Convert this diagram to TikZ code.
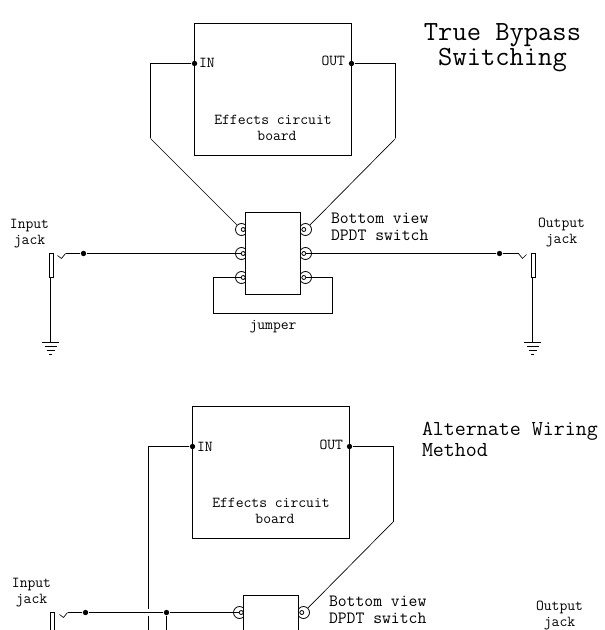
\documentclass[tikz,border=0pt]{standalone}
\begin{document}
\begin{tikzpicture}[x=0.75pt,y=-0.75pt,line width=0.75pt,
  txt/.style={inner sep=0pt,font=\ttfamily\fontsize{11.4}{13}\selectfont,text height=6.5pt,text depth=1.5pt},
  txtb/.style={txt,font=\ttfamily\fontsize{12.9}{14}\selectfont,anchor=west},
  ttl/.style={inner sep=0pt,font=\ttfamily\fontsize{20.8}{23}\selectfont,text height=11pt,text depth=2.5pt},
  alt/.style={inner sep=0pt,font=\ttfamily\fontsize{16}{18}\selectfont,text height=9pt,text depth=2pt,anchor=west},
  dot/.style={circle,fill=black,inner sep=0pt,minimum size=4pt},
  lugb/.style={circle,draw,inner sep=0pt,minimum size=9pt,line width=0.6pt},
  lugs/.style={circle,draw,fill=white,inner sep=0pt,minimum size=3pt,line width=0.6pt},
  sw/.style={draw,fill=white,inner sep=0pt},
  wire/.style={line width=0.75pt},
  thin wire/.style={line width=0.5pt},
  jackbody/.style={draw,inner sep=0pt,minimum width=3pt,minimum height=17.5pt}]
\useasboundingbox (-0.5,-0.5) rectangle (604.5,629.5);
\clip (-0.5,-0.5) rectangle (604.5,629.5);
% ---------- top diagram ----------
\node[draw,inner sep=0pt,minimum width=117.75pt,minimum height=99pt] (board) at (272.5,89) {};
\node[dot] (in) at (194,63) {};
\node[dot] (out) at (351,63) {};
\node[txt,anchor=west] (inl) at (198,64) {IN};
\node[txt,anchor=east] (outl) at (345,62) {OUT};
\node[txt] (eff) at (272.5,121) {Effects circuit};
\node[txt] (brd) at (276.5,137) {board};
\node[ttl] (t1) at (502,34) {True Bypass};
\node[ttl] (t2) at (502,59) {Switching};
\foreach \n/\y in {1/229,2/253,3/277}{
  \node[lugb] (la\n) at (241,\y) {};
  \node[lugb] (ra\n) at (305,\y) {};
}
\node[sw,minimum width=41.25pt,minimum height=61.5pt] (switch) at (272.5,253) {};
\foreach \n/\y in {1/229,2/253,3/277}{
  \node[lugs] (lb\n) at (242.7,\y) {};
  \node[lugs] (rb\n) at (303.3,\y) {};
}
\coordinate (c1) at (150,63);
\coordinate (c2) at (150,138);
\coordinate (c3) at (395,63);
\coordinate (c4) at (395,138);
\draw[wire] (in) -- (c1) -- (c2);
\draw[thin wire] (c2) -- (la1);
\draw[wire] (out) -- (c3) -- (c4);
\draw[thin wire] (c4) -- (ra1);
\node[txt] (inp1) at (29,225) {Input};
\node[txt] (inp2) at (29,241) {jack};
\node[txt] (outp1) at (561,224) {Output};
\node[txt] (outp2) at (561,240) {jack};
\node[txtb] (bv) at (330,220) {Bottom view};
\node[txtb] (dp) at (330,237) {DPDT switch};
\node[txt] (jmp) at (272.5,326) {jumper};
\node[dot] (d1) at (83,253) {};
\node[dot] (d2) at (499,253) {};
\node[jackbody] (jl) at (50.5,265) {};
\node[jackbody] (jr) at (532.5,265) {};
\coordinate (h1) at (65,253);
\coordinate (h2) at (61,258);
\coordinate (h3) at (57,255);
\coordinate (h4) at (518,253);
\coordinate (h5) at (522,258);
\coordinate (h6) at (526,254);
\draw[wire] (lb2) -- (d1) -- (h1);
\draw[thin wire] (h1) -- (h2) -- (h3);
\draw[wire] (rb2) -- (d2) -- (h4);
\draw[thin wire] (h4) -- (h5) -- (h6);
\coordinate (j1) at (213,277);
\coordinate (j2) at (213,313);
\coordinate (j3) at (332,313);
\coordinate (j4) at (332,277);
\draw[wire] (lb3) -- (j1) -- (j2) -- (j3) -- (j4) -- (rb3);
\coordinate (g1) at (50,342);
\coordinate (g2) at (532,342);
\draw[wire] (jl.south -| g1) -- (g1);
\draw[wire] (jr.south -| g2) -- (g2);
\foreach \g in {g1,g2}{
  \draw[wire] ([xshift=-6.4pt]\g) -- ([xshift=6.4pt]\g);
  \draw[thin wire] ([xshift=-4.5pt,yshift=-3pt]\g) -- ([xshift=4.5pt,yshift=-3pt]\g);
  \draw[thin wire] ([xshift=-3pt,yshift=-6pt]\g) -- ([xshift=3pt,yshift=-6pt]\g);
  \draw[thin wire] ([xshift=-1pt,yshift=-9pt]\g) -- ([xshift=1pt,yshift=-9pt]\g);
}
% ---------- bottom diagram ----------
\node[draw,inner sep=0pt,minimum width=117.75pt,minimum height=99pt] (boardB) at (270.5,472) {};
\node[dot] (inB) at (192,446) {};
\node[dot] (outB) at (349,446) {};
\node[txt,anchor=west] (inlB) at (196,448) {IN};
\node[txt,anchor=east] (outlB) at (343,446) {OUT};
\node[txt] (effB) at (270.5,504) {Effects circuit};
\node[txt] (brdB) at (274.5,520) {board};
\node[alt] (a1) at (421,430) {Alternate Wiring};
\node[alt] (a2) at (421,451) {Method};
\foreach \n/\y in {1/612,2/636}{
  \node[lugb] (laB\n) at (239,\y) {};
  \node[lugb] (raB\n) at (303,\y) {};
}
\node[sw,minimum width=41.25pt,minimum height=61.5pt] (switchB) at (270.5,636) {};
\foreach \n/\y in {1/612,2/636}{
  \node[lugs] (lbB\n) at (240.7,\y) {};
  \node[lugs] (rbB\n) at (301.3,\y) {};
}
\node[txt] (inpB1) at (31,584) {Input};
\node[txt] (inpB2) at (31,600) {jack};
\node[txt] (outpB1) at (559,607) {Output};
\node[txt] (outpB2) at (559,623) {jack};
\node[txtb] (bvB) at (328,603) {Bottom view};
\node[txtb] (dpB) at (328,620) {DPDT switch};
\node[dot] (dB1) at (85,612) {};
\node[dot] (dB2) at (166,612) {};
\node[jackbody] (jlB) at (52,624) {};
\coordinate (hB1) at (67,612);
\coordinate (hB2) at (63,617);
\coordinate (hB3) at (59,614);
\draw[wire] (lbB1) -- (dB2) -- (dB1) -- (hB1);
\draw[thin wire] (hB1) -- (hB2) -- (hB3);
\coordinate (v1) at (148,446);
\coordinate (v2) at (148,608);
\coordinate (v3) at (148,615);
\coordinate (v4) at (148,632);
\coordinate (v5) at (166,632);
\draw[wire] (inB) -- (v1) -- (v2);
\draw[wire] (v3) -- (v4);
\draw[wire] (dB2) -- (v5);
\coordinate (w1) at (393,446);
\coordinate (w2) at (393,521);
\draw[wire] (outB) -- (w1) -- (w2);
\draw[thin wire] (w2) -- (raB1);
\end{tikzpicture}
\end{document}
